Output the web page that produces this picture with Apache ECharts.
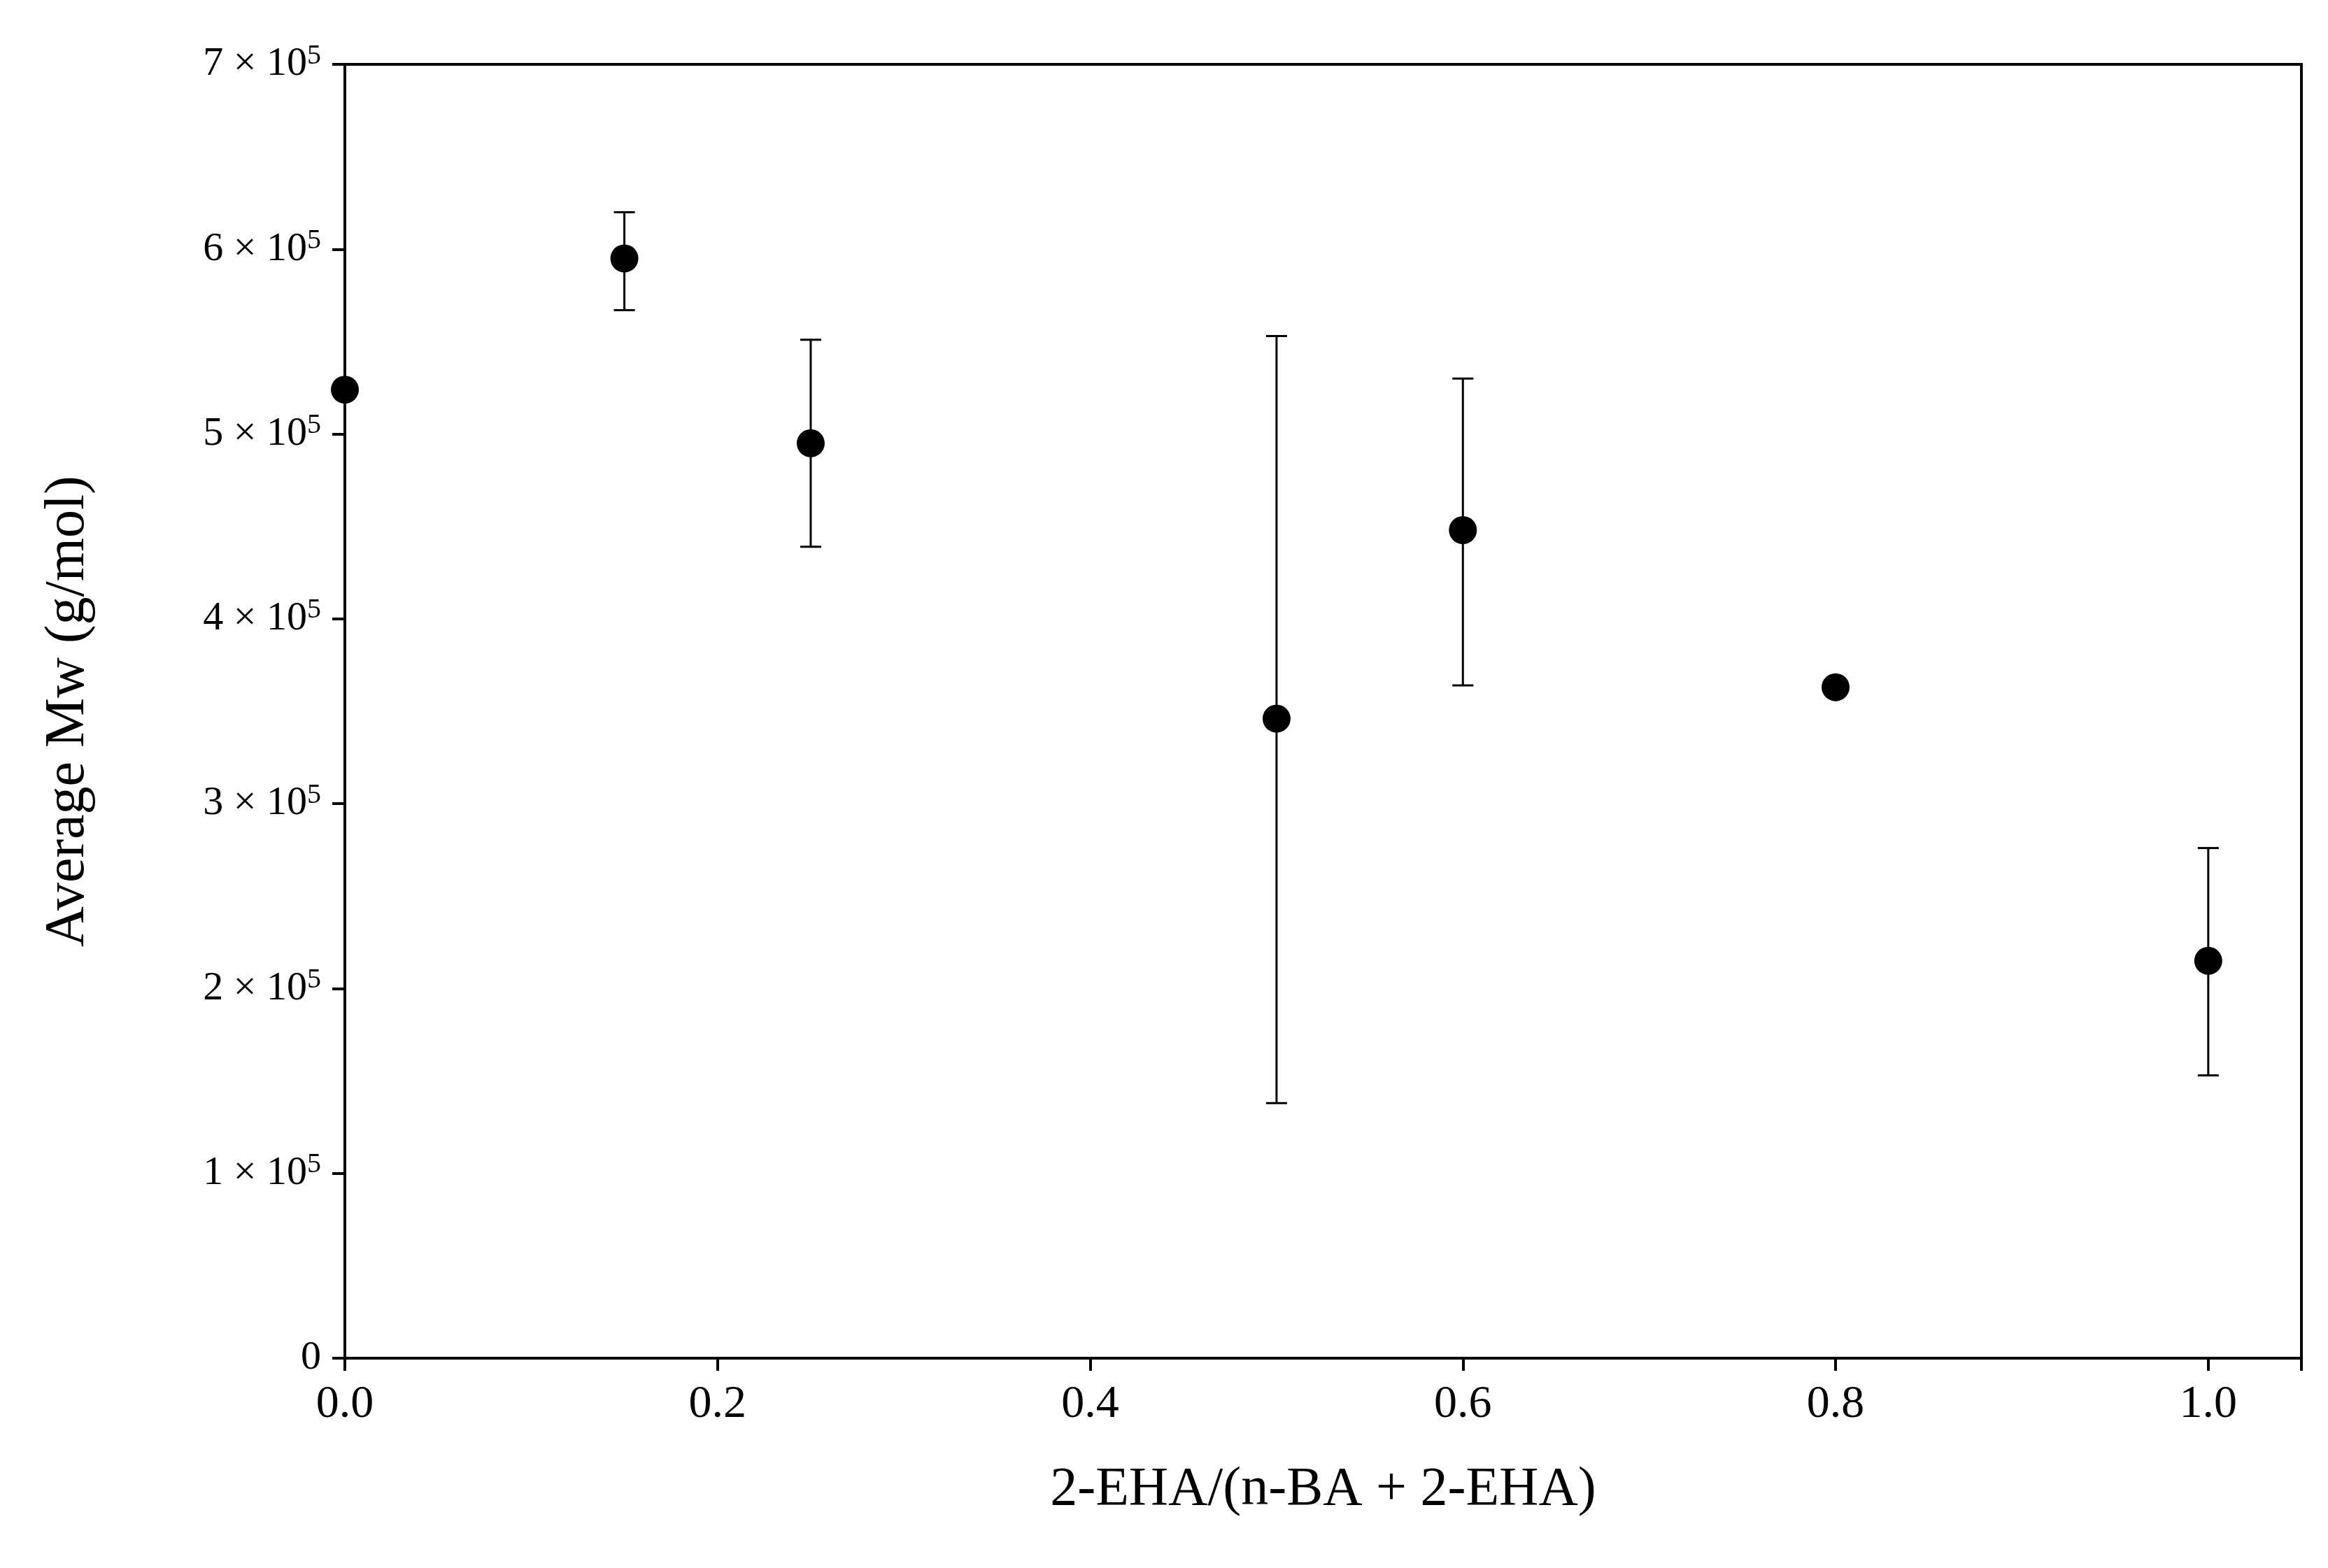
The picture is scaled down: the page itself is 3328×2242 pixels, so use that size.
<!DOCTYPE html>
<html>
<head>
<meta charset="utf-8">
<script src="https://cdn.jsdelivr.net/npm/echarts@6/dist/echarts.min.js"></script>
<style>html,body{margin:0;padding:0;background:#fff}#main{width:3328px;height:2242px}</style>
</head>
<body>
<div id="main"></div>
<script>
var ratio = [0.0, 0.15, 0.25, 0.5, 0.6, 0.8, 1.0];
var mw = [524000, 595000, 495000, 346000, 448000, 363000, 215000];
var errHigh = [null, 620000, 551000, 553000, 530000, null, 276000];
var errLow = [null, 567000, 439000, 138000, 364000, null, 153000];

var chart = echarts.init(document.getElementById('main'));
var font = '"Liberation Serif", "DejaVu Serif", serif';

var points = ratio.map(function (x, i) { return [x, mw[i]]; });
var bars = [];
ratio.forEach(function (x, i) {
    if (errHigh[i] != null) bars.push([x, errLow[i], errHigh[i]]);
});

chart.setOption({
    animation: false,
    grid: { left: 493, right: 38, top: 92, bottom: 300, show: true, borderColor: '#000', borderWidth: 4 },
    xAxis: {
        type: 'value', min: 0, max: 1.05, interval: 0.2,
        name: '2-EHA/(n-BA + 2-EHA)', nameLocation: 'middle', nameGap: 150,
        nameTextStyle: { fontFamily: font, fontSize: 78, color: '#000' },
        axisLine: { lineStyle: { color: '#000', width: 4 } },
        axisTick: { lineStyle: { color: '#000', width: 4 }, length: 18 },
        splitLine: { show: false },
        axisLabel: {
            fontFamily: font, fontSize: 66, color: '#000', margin: 34,
            formatter: function (v) { return v > 1.01 ? '' : v.toFixed(1); }
        }
    },
    yAxis: {
        type: 'value', min: 0, max: 700000, interval: 100000,
        name: 'Average Mw (g/mol)', nameLocation: 'middle', nameGap: 355,
        nameTextStyle: { fontFamily: font, fontSize: 80, color: '#000' },
        axisLine: { lineStyle: { color: '#000', width: 4 } },
        axisTick: { lineStyle: { color: '#000', width: 4 }, length: 18 },
        splitLine: { show: false },
        axisLabel: {
            fontFamily: font, fontSize: 58, color: '#000', margin: 34,
            formatter: function (v) {
                if (v === 0) return '0';
                return (v / 100000) + ' × 10{sup|5}';
            },
            rich: { sup: { fontFamily: font, fontSize: 40, color: '#000', verticalAlign: 'top', padding: [0, 0, 24, 0] } }
        }
    },
    series: [{
        type: 'custom',
        data: bars,
        renderItem: function (params, api) {
            var x = api.value(0);
            var lo = api.coord([x, api.value(1)]);
            var hi = api.coord([x, api.value(2)]);
            var w = 15;
            var style = { stroke: '#000', lineWidth: 3 };
            return {
                type: 'group',
                children: [
                    { type: 'line', shape: { x1: lo[0], y1: lo[1], x2: hi[0], y2: hi[1] }, style: style },
                    { type: 'line', shape: { x1: lo[0] - w, y1: lo[1], x2: lo[0] + w, y2: lo[1] }, style: style },
                    { type: 'line', shape: { x1: hi[0] - w, y1: hi[1], x2: hi[0] + w, y2: hi[1] }, style: style }
                ]
            };
        },
        z: 1
    }, {
        type: 'scatter',
        data: points,
        symbolSize: 40,
        itemStyle: { color: '#000', opacity: 1 },
        z: 2
    }]
});
</script>
</body>
</html>
